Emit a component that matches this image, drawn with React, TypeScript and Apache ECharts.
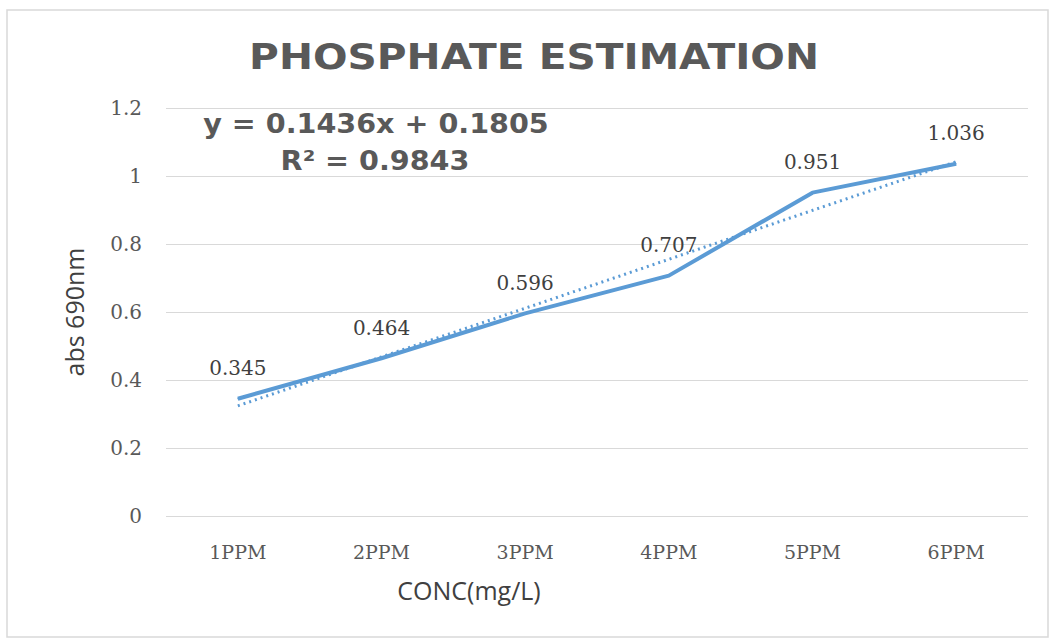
import React, { useEffect, useRef } from "react";
import * as echarts from "echarts";

const categories = ["1PPM", "2PPM", "3PPM", "4PPM", "5PPM", "6PPM"];
const absorbance = [0.345, 0.464, 0.596, 0.707, 0.951, 1.036];
const trendValues = [0.324, 0.468, 0.611, 0.755, 0.899, 1.042];
const titleText = "PHOSPHATE ESTIMATION";
const equationText = "y = 0.1436x + 0.1805";
const r2Text = "R² = 0.9843";
const xAxisTitle = "CONC(mg/L)";
const yAxisTitle = "abs 690nm";

export default function App() {
  const ref = useRef<HTMLDivElement>(null);
  useEffect(() => {
    if (!ref.current) return;
    const chart = echarts.init(ref.current, undefined, { renderer: "svg" });
    const blue = "#5B9BD5";
    chart.setOption({
      animation: false,
      backgroundColor: "#ffffff",
      grid: { left: 166, right: 22, top: 108, bottom: 122 },
      xAxis: {
        type: "category",
        data: categories,
        boundaryGap: true,
        axisLine: { show: false },
        axisTick: { show: false },
        axisLabel: { color: "#595959", fontFamily: "DejaVu Serif", fontSize: 19, margin: 26 },
      },
      yAxis: {
        type: "value",
        min: 0,
        max: 1.2,
        interval: 0.2,
        axisLine: { show: false },
        axisTick: { show: false },
        splitLine: { lineStyle: { color: "#d9d9d9", width: 1 } },
        axisLabel: { color: "#595959", fontFamily: "DejaVu Serif", fontSize: 20, margin: 24 },
        name: yAxisTitle,
        nameLocation: "middle",
        nameGap: 80,
        nameTextStyle: { color: "#404040", fontFamily: "Open Sans", fontSize: 25 },
      },
      series: [
        {
          type: "line",
          data: absorbance,
          symbol: "circle",
          symbolSize: 1,
          showSymbol: true,
          itemStyle: { color: blue },
          lineStyle: { color: blue, width: 4 },
          label: {
            show: true,
            position: "top",
            distance: 20,
            color: "#404040",
            fontFamily: "DejaVu Serif",
            fontSize: 20,
          },
          z: 3,
        },
        {
          type: "line",
          data: trendValues,
          symbol: "none",
          lineStyle: { color: blue, width: 3, type: [2, 4] },
          z: 2,
        },
      ],
      graphic: [
        {
          type: "rect",
          shape: { x: 7, y: 10, width: 1041, height: 627 },
          style: { fill: "none", stroke: "#d9d9d9", lineWidth: 1.5 },
          silent: true,
        },
        {
          type: "text",
          x: 534,
          y: 56,
          scaleX: 1.13,
          style: {
            text: titleText,
            fill: "#595959",
            fontFamily: "DejaVu Sans",
            fontWeight: "bold",
            fontSize: 36,
            align: "center",
            verticalAlign: "middle",
          },
        },
        {
          type: "text",
          x: 376,
          y: 124,
          scaleX: 1.1,
          style: {
            text: equationText,
            fill: "#595959",
            fontFamily: "DejaVu Sans",
            fontWeight: "bold",
            fontSize: 26,
            align: "center",
            verticalAlign: "middle",
          },
        },
        {
          type: "text",
          x: 375,
          y: 161,
          scaleX: 1.1,
          style: {
            text: r2Text,
            fill: "#595959",
            fontFamily: "DejaVu Sans",
            fontWeight: "bold",
            fontSize: 26,
            align: "center",
            verticalAlign: "middle",
          },
        },
        {
          type: "text",
          x: 469,
          y: 590,
          style: {
            text: xAxisTitle,
            fill: "#404040",
            fontFamily: "Open Sans",
            fontSize: 25,
            align: "center",
            verticalAlign: "middle",
          },
        },
      ],
    });
    return () => chart.dispose();
  }, []);
  return (
    <div
      ref={ref}
      style={{ position: "fixed", left: 0, top: 0, width: 1050, height: 638 }}
    />
  );
}
